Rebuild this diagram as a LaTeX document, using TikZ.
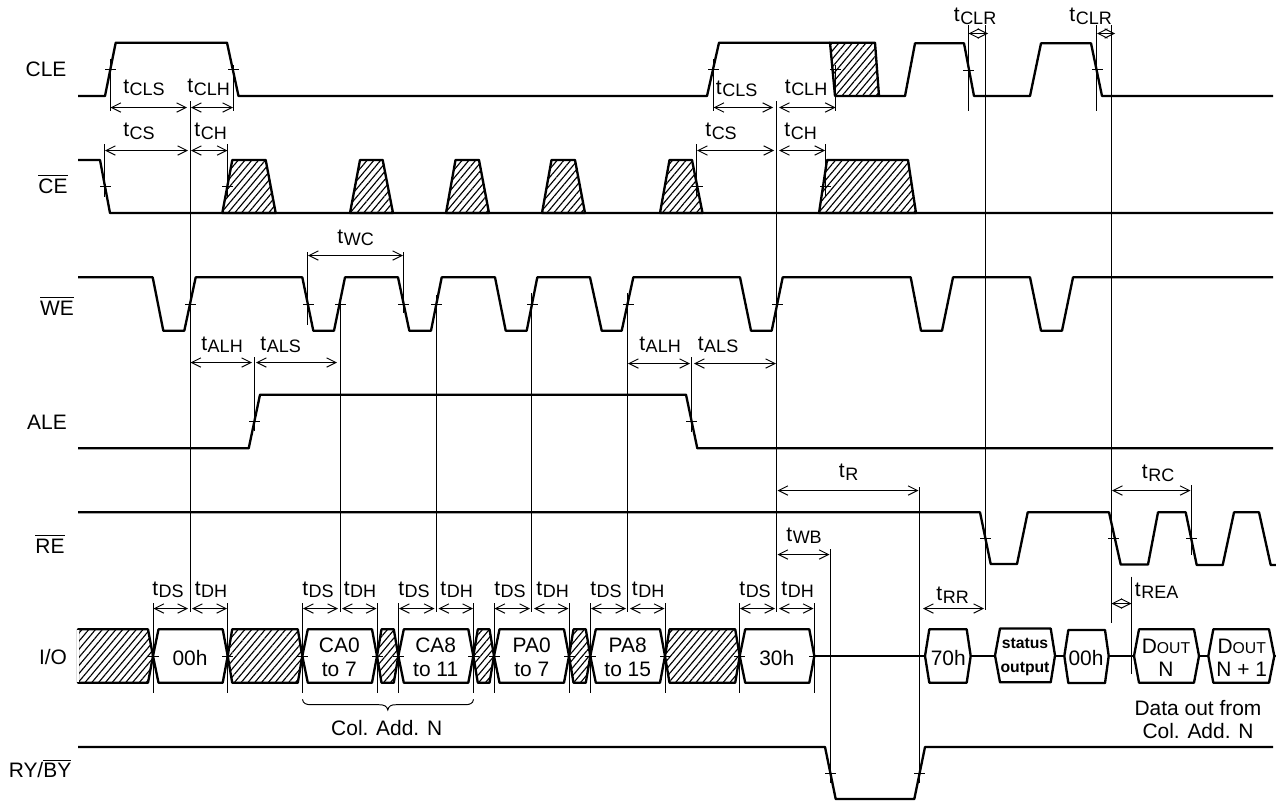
\documentclass[tikz,border=0pt]{standalone}
\usepackage{fontspec}
\setmainfont{Liberation Sans}
\usetikzlibrary{arrows.meta,patterns.meta}
\newcommand{\tsub}[1]{t\kern0.5pt{\fontsize{13.5}{13.5}\selectfont\raisebox{-2.2pt}{#1}}}
\newcommand{\ovl}[1]{\setbox0\hbox{#1}\rlap{\raisebox{12.8pt}{\rule{\wd0}{0.7pt}}}\box0}
\newcommand{\smc}[1]{{\fontsize{11.8}{12}\selectfont #1}}
\tikzset{
  sig/.style={line width=1.75pt,line join=round,line cap=butt},
  thinl/.style={line width=0.72pt},
  dim/.style={line width=0.72pt,{Straight Barb[length=7pt,width=7pt,line width=0.72pt]}-{Straight Barb[length=7pt,width=7pt,line width=0.72pt]}},
  hatchf/.style={pattern={Lines[angle=50,distance=3.9pt,line width=0.85pt]},pattern color=black},
  lab/.style={inner sep=0pt,anchor=base,font=\fontsize{15.7}{18}\selectfont},
  boldlab/.style={inner sep=0pt,anchor=base,font=\fontsize{11.8}{14}\selectfont\bfseries}
}
\begin{document}
\begin{tikzpicture}[x=0.75pt,y=-0.75pt]
\fill[white] (0,0) rectangle (1276,800);
\useasboundingbox (0,0) rectangle (1276,800);

% ---- signal names
\node[lab] (nCLE) at (46,76.7) {CLE};
\node[lab] (nCE) at (53,193.3) {\ovl{CE}};
\node[lab] (nWE) at (57,315) {\ovl{WE}};
\node[lab] (nALE) at (47,429) {ALE};
\node[lab] (nRE) at (50,553) {\ovl{RE}};
\node[lab] (nIO) at (53,664) {I/O};
\node[lab] (nRY) at (40,777.7) {RY/\ovl{BY}};

% ---- CLE
\draw[sig] (78,96)--(105,96)--(115.7,42.7)--(227,42.7)--(238.5,96)--(707,96)--(719,42.7)--(830,42.7);
\draw[sig,hatchf] (830,42.7)--(875,42.7)--(879,96)--(835,96)--cycle;
\draw[sig] (879,96)--(905,96)--(915,43.3)--(964,43.3)--(974,96)--(1030,96)--(1041,43.3)--(1091,43.3)--(1102,96)--(1273,96);

% ---- CE
\draw[sig] (78,160)--(100,160)--(110,213)--(1273,213);
\foreach \a/\b/\c/\d in {222.3/232.3/265.7/275.7,350/360/382.7/393,446/455.5/479/489,542/551.5/575/585,660/669.5/692/702.5,819/827/908/916}{
  \draw[sig,hatchf] (\a,213)--(\b,160)--(\c,160)--(\d,213)--cycle;
}

% ---- WE
\draw[sig] (78,277.3)--(152.7,277.3)--(163.3,330.7)--(184.3,330.7)--(195.7,277.3)
  --(302.3,277.3)--(313.3,330.7)--(334,330.7)--(345,277.3)
  --(398,277.3)--(409.3,330.7)--(431,330.7)--(441.7,277.3)
  --(495,277.3)--(505.7,330.7)--(526.7,330.7)--(537.3,277.3)
  --(590,277.3)--(601.7,330.7)--(621.7,330.7)--(633.3,277.3)
  --(740,277.3)--(751,330.7)--(771.7,330.7)--(782.7,277.3)
  --(910.7,277.3)--(921,330.7)--(942,330.7)--(953,277.3)
  --(1030,277.3)--(1041,330.7)--(1062,330.7)--(1073,277.3)--(1273,277.3);

% ---- ALE
\draw[sig] (78,448.3)--(248.7,448.3)--(260,394.7)--(686,394.7)--(697.3,448.3)--(1273,448.3);

% ---- RE
\draw[sig] (78,512.3)--(980,512.3)--(990.7,564)--(1017,564)--(1027.7,512.3)--(1109,512.3)--(1120.7,564.5)--(1148,564.5)--(1158,512.3)--(1185.7,512.3)--(1196.7,565)--(1222.7,565)--(1234,512.3)--(1259,512.3)--(1270.7,565)--(1276,565);

% ---- I/O
\draw[sig,hatchf] (148,629.3)--(78,629.3)--(78,682.7)--(148,682.7)--(153,656)--cycle;
\draw[draw=white,line width=2pt] (78,630.4)--(78,681.6);
\foreach \a/\b in {227.7/302.3,377/398.3,473.3/494,569/590.3,665/739.7}{
  \draw[sig,hatchf] (\a,656)--({\a+4.5},629.3)--({\b-4.5},629.3)--(\b,656)--({\b-4.5},682.7)--({\a+4.5},682.7)--cycle;
}
\foreach \a/\b in {153/227.7,302.3/377,398.3/473.3,494/569,590.3/665,739.7/814.3}{
  \draw[sig] (\a,656)--({\a+5.5},629.3)--({\b-5},629.3)--(\b,656)--({\b-5},682.7)--({\a+5.5},682.7)--cycle;
}
\draw[sig] (814.3,656)--(925,656);
\draw[sig] (925,656)--(929.3,629.3)--(966.7,629.3)--(970.7,656)--(966.7,682.7)--(929.3,682.7)--cycle;
\draw[sig] (970.7,656)--(995,656);
\draw[sig] (995,655.5)--(1000,628.5)--(1050.7,628.5)--(1055,655.5)--(1050.7,682.3)--(1000,682.3)--cycle;
\draw[sig] (1055,656)--(1064.3,656);
\draw[sig] (1064.3,656)--(1068.3,630)--(1105,630)--(1108.7,656)--(1105,683)--(1068.3,683)--cycle;
\draw[sig] (1108.7,656)--(1134,656);
\draw[sig] (1134,656)--(1139,629.3)--(1194,629.3)--(1199,656)--(1194,682.7)--(1139,682.7)--cycle;
\draw[sig] (1199,656)--(1208.3,656);
\draw[sig] (1208.3,656)--(1213.3,629.3)--(1269,629.3)--(1274.3,656)--(1269,682.7)--(1213.3,682.7)--cycle;
\draw[sig] (1274.3,656)--(1276,656);

% ---- RY/BY
\draw[sig] (78,747)--(825,747)--(835.7,799)--(914.3,799)--(925,747)--(1273,747);

% ---- ticks
\foreach \x/\y in {110.5/69.5,233.5/69.5,713.5/69.5,835.5/69.5,968.5/70.5,1097.5/69.5,
  105.5/186.5,227.5/186.5,697.5/186.5,825.5/186.5,
  190.5/304.5,308.5/304.5,340.5/304.5,403.5/304.5,436.5/304.5,532.5/304.5,628.5/304.5,777.5/304.5,
  254.5/421.5,691.5/421.5,
  985.5/538.5,1113.5/538.5,1191.5/538.5,
  830.5/773.5,919.5/773.5,
  153.5/656.5,227.5/656.5,302.5/656.5,377.5/656.5,398.5/656.5,473.5/656.5,494.5/656.5,569.5/656.5,590.5/656.5,665.5/656.5,739.5/656.5,814.5/656.5}{
  \draw[thinl] ({\x-5.5},\y)--({\x+5.5},\y);
}

% ---- vertical guide lines
\foreach \x/\a/\b in {110.5/59/111,233.5/65/111,713.5/59/111,835.5/65/111,968.5/25/111,1096.5/25/111,
  104.5/144/197,227.5/144/197,696.5/144/197,825.5/144/197,
  190.5/101/612,776.5/101/612,985.5/25/610,1111.5/25/623,
  307.5/252/325,403.5/252/313,
  340.5/295/612,436.5/295/612,531.5/293/612,627.5/293/612,
  254.5/357/431,691.5/357/431.7,
  919.5/487/783,830.5/549/783,1191.5/485/555,1131.5/576.7/674}{
  \draw[thinl] (\x,\a)--(\x,\b);
}
\foreach \x in {153.5,227.5,302.5,377.5,398.5,473.5,494.5,569.5,590.5,665.5,739.5,814.5}{
  \draw[thinl] (\x,603)--(\x,692.7);
}

% ---- dimension arrows
\foreach \a/\b/\y in {110.5/187/107.5,191/233/107.5,713.5/773/107.5,779/835.5/107.5,968.5/988/33.5,1097/1115/33.5,
  105/188/150.5,191/227.5/150.5,697/774/150.5,779/825/150.5,
  308/403/255.5,
  190.5/252/362.5,256/337/362.5,628/690/363.5,694/776/363.5,
  777.5/918.5/490.5,1112/1190.5/490.5,777.5/829.5/554.5,
  923/984/608.5,1111.5/1131.5/603.5,
  153.5/188/608.5,192/227/608.5,303/338/608.5,342/376.5/608.5,399/434.5/608.5,438.5/473/608.5,
  494.5/530/608.5,534/568.5/608.5,591/626/608.5,630/664.5/608.5,740/775/608.5,779/813.5/608.5}{
  \draw[dim] (\a,\y)--(\b,\y);
}

% ---- brace
\draw[thinl] (302.5,699.3) .. controls (303,703.5) and (306,704.7) .. (311,704.7) -- (379,704.7) .. controls (384,704.7) and (387,706) .. (387.8,710) .. controls (388.6,706) and (391,704.7) .. (396,704.7) -- (465,704.7) .. controls (470,704.7) and (473,703.5) .. (473.5,699.3);

% ---- timing labels
\node[lab] (t1) at (144,93) {\tsub{CLS}};
\node[lab] (t2) at (208.7,92.7) {\tsub{CLH}};
\node[lab] (t3) at (139,136.7) {\tsub{CS}};
\node[lab] (t4) at (210.7,136.7) {\tsub{CH}};
\node[lab] (t5) at (355.7,243) {\tsub{WC}};
\node[lab] (t6) at (736.7,94) {\tsub{CLS}};
\node[lab] (t7) at (806,93) {\tsub{CLH}};
\node[lab] (t8) at (721,136.7) {\tsub{CS}};
\node[lab] (t9) at (800.7,136.7) {\tsub{CH}};
\node[lab] (t10) at (975,21.7) {\tsub{CLR}};
\node[lab] (t11) at (1090.7,21.7) {\tsub{CLR}};
\node[lab] (t12) at (222,350) {\tsub{ALH}};
\node[lab] (t13) at (280.7,350) {\tsub{ALS}};
\node[lab] (t14) at (660,350) {\tsub{ALH}};
\node[lab] (t15) at (718,350) {\tsub{ALS}};
\node[lab] (t16) at (848.7,477.7) {\tsub{R}};
\node[lab] (t17) at (804,541) {\tsub{WB}};
\node[lab] (t18) at (1158,478.5) {\tsub{RC}};
\node[lab] (t19) at (952.7,600.7) {\tsub{RR}};
\node[lab] (t20) at (1156.7,596) {\tsub{REA}};
\node[lab] (ds1) at (168,595) {\tsub{DS}};
\node[lab] (dh1) at (211,595) {\tsub{DH}};
\node[lab] (ds2) at (318,595) {\tsub{DS}};
\node[lab] (dh2) at (360,595) {\tsub{DH}};
\node[lab] (ds3) at (414,595) {\tsub{DS}};
\node[lab] (dh3) at (456.7,595) {\tsub{DH}};
\node[lab] (ds4) at (510,595) {\tsub{DS}};
\node[lab] (dh4) at (552.7,595) {\tsub{DH}};
\node[lab] (ds5) at (606,595) {\tsub{DS}};
\node[lab] (dh5) at (648,595) {\tsub{DH}};
\node[lab] (ds6) at (755,595) {\tsub{DS}};
\node[lab] (dh6) at (797.7,595) {\tsub{DH}};

% ---- data texts
\node[lab] (d1) at (190,665) {00h};
\node[lab] (d2a) at (339.3,652) {CA0};
\node[lab] (d2b) at (339.3,676.5) {to 7};
\node[lab] (d3a) at (435.7,652) {CA8};
\node[lab] (d3b) at (435.7,676.5) {to 11};
\node[lab] (d4a) at (531.7,652) {PA0};
\node[lab] (d4b) at (531.7,676.5) {to 7};
\node[lab] (d5a) at (627.7,652) {PA8};
\node[lab] (d5b) at (627.7,676.5) {to 15};
\node[lab] (d6) at (776.7,665) {30h};
\node[lab] (d7) at (948.3,665) {70h};
\node[boldlab] (d8a) at (1025,648) {status};
\node[boldlab] (d8b) at (1025,672) {output};
\node[lab] (d9) at (1086,665) {00h};
\node[lab] (d10a) at (1166,653) {D\smc{OUT}};
\node[lab] (d10b) at (1166,676.7) {N};
\node[lab] (d11a) at (1241.7,653) {D\smc{OUT}};
\node[lab] (d11b) at (1241.7,676.7) {N + 1};
\node[lab] (c1) at (386.7,735) {Col. Add. N};
\node[lab] (c2) at (1198,715) {Data out from};
\node[lab] (c3) at (1198,738) {Col. Add. N};
\end{tikzpicture}
\end{document}
